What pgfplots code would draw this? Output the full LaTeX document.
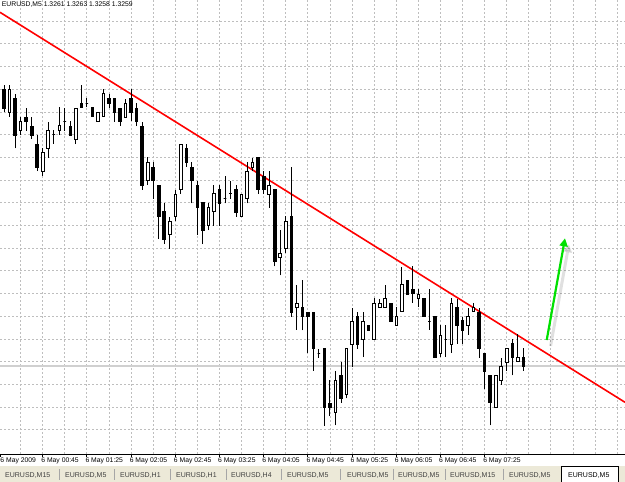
\documentclass[border=0pt]{standalone}
\usepackage{fontspec}
\setmainfont{Liberation Sans}
\usepackage{pgfplots}
\usepackage{pgfplotstable}
\pgfplotsset{compat=1.18}
\usetikzlibrary{arrows.meta}
\definecolor{gridc}{HTML}{BEBEBE}
\definecolor{tabbg}{HTML}{ECE9D8}
\definecolor{tabtxt}{HTML}{404040}
\definecolor{bidc}{HTML}{D0D0D0}
\definecolor{arrowg}{HTML}{00E000}

\pgfdeclareplotmark{cbody}{%
  \pgfpathrectangle{\pgfpoint{-1.3pt}{-0.5*\bh pt}}{\pgfpoint{2.6pt}{\bh pt}}%
  \pgfusepathqfillstroke}
\pgfdeclareplotmark{cwick}{%
  \pgfpathmoveto{\pgfpoint{0pt}{-0.5*\wh pt}}%
  \pgfpathlineto{\pgfpoint{0pt}{0.5*\wh pt}}%
  \pgfusepathqstroke}

\pgfplotsset{
  wick/.style={scatter, only marks, mark=cwick, mark options={line width=0.9pt},
    scatter/use mapped color={draw=black},
    visualization depends on={(\thisrow{h}-\thisrow{l})*45400 \as \wh}},
  body/.style={scatter, only marks, mark=cbody, mark options={line width=0.8pt},
    scatter/use mapped color={draw=black, fill=#1},
    visualization depends on={abs(\thisrow{c}-\thisrow{o})*45400 \as \bh}},
}

% EURUSD M5 candles, 6 May 2009: bar index j, open, high, low, close
\pgfplotstableread{
j o h l c
1 1.3315 1.3321 1.3314 1.3320
3 1.3311 1.3314 1.3310 1.3313
7 1.3302 1.3307 1.3301 1.3306
8 1.3307 1.3313 1.3305 1.3311
9 1.3310 1.3311 1.3308 1.3310
10 1.3311 1.3316 1.3310 1.3312
11 1.3313 1.3316 1.3311 1.3313
13 1.3309 1.3316 1.3308 1.3316
15 1.3317 1.3318 1.3316 1.3317
17 1.3313 1.3315 1.3313 1.3315
18 1.3314 1.3320 1.3314 1.3319
22 1.3314 1.3318 1.3314 1.3317
26 1.3300 1.3305 1.3299 1.3304
30 1.3288 1.3292 1.3285 1.3291
31 1.3292 1.3298 1.3291 1.3297
32 1.3298 1.3308 1.3297 1.3308
37 1.3290 1.3295 1.3289 1.3294
38 1.3293 1.3299 1.3290 1.3297
40 1.3296 1.3301 1.3295 1.3296
41 1.3297 1.3300 1.3296 1.3297
43 1.3292 1.3297 1.3292 1.3297
44 1.3296 1.3304 1.3295 1.3302
45 1.3303 1.3305 1.3302 1.3304
48 1.3297 1.3302 1.3294 1.3299
50 1.3283 1.3289 1.3279 1.3284
51 1.3285 1.3292 1.3284 1.3291
53 1.3272 1.3277 1.3267 1.3273
57 1.3262 1.3263 1.3261 1.3262
60 1.3249 1.3258 1.3246 1.3256
62 1.3253 1.3263 1.3252 1.3263
63 1.3264 1.3272 1.3259 1.3269
65 1.3265 1.3271 1.3261 1.3269
67 1.3265 1.3274 1.3265 1.3273
68 1.3272 1.3274 1.3272 1.3273
69 1.3272 1.3277 1.3272 1.3274
71 1.3268 1.3272 1.3268 1.3270
72 1.3271 1.3281 1.3271 1.3277
75 1.3274 1.3276 1.3272 1.3275
77 1.3269 1.3276 1.3267 1.3269
79 1.3262 1.3268 1.3261 1.3266
80 1.3265 1.3268 1.3261 1.3265
81 1.3264 1.3274 1.3262 1.3273
84 1.3268 1.3272 1.3266 1.3270
85 1.3271 1.3273 1.3271 1.3272
89 1.3250 1.3257 1.3250 1.3257
90 1.3256 1.3261 1.3255 1.3259
91 1.3260 1.3263 1.3258 1.3263
93 1.3260 1.3266 1.3260 1.3261
}\bulls
\pgfplotstableread{
j o h l c
-1 1.3325 1.3326 1.3317 1.3318
0 1.3320 1.3321 1.3315 1.3316
2 1.3318 1.3319 1.3307 1.3310
4 1.3314 1.3316 1.3311 1.3313
5 1.3312 1.3314 1.3309 1.3310
6 1.3308 1.3310 1.3302 1.3303
12 1.3312 1.3313 1.3310 1.3310
14 1.3317 1.3321 1.3316 1.3316
16 1.3316 1.3316 1.3314 1.3314
19 1.3318 1.3319 1.3316 1.3317
20 1.3318 1.3318 1.3313 1.3315
21 1.3316 1.3316 1.3312 1.3313
23 1.3318 1.3320 1.3313 1.3315
24 1.3316 1.3317 1.3312 1.3313
25 1.3312 1.3313 1.3298 1.3299
27 1.3303 1.3304 1.3296 1.3300
28 1.3299 1.3299 1.3287 1.3292
29 1.3293 1.3295 1.3286 1.3287
33 1.3307 1.3308 1.3303 1.3304
34 1.3303 1.3304 1.3295 1.3300
35 1.3299 1.3300 1.3288 1.3294
36 1.3295 1.3295 1.3286 1.3289
39 1.3298 1.3299 1.3290 1.3295
42 1.3298 1.3299 1.3292 1.3293
46 1.3305 1.3305 1.3297 1.3298
47 1.3301 1.3302 1.3297 1.3298
49 1.3298 1.3298 1.3281 1.3282
52 1.3292 1.3303 1.3270 1.3271
54 1.3272 1.3278 1.3267 1.3270
55 1.3271 1.3271 1.3262 1.3270
56 1.3271 1.3271 1.3258 1.3263
58 1.3263 1.3263 1.3246 1.3250
59 1.3251 1.3256 1.3248 1.3250
61 1.3257 1.3260 1.3251 1.3252
64 1.3270 1.3271 1.3263 1.3264
66 1.3268 1.3268 1.3267 1.3267
70 1.3273 1.3273 1.3269 1.3269
73 1.3278 1.3278 1.3275 1.3275
74 1.3276 1.3281 1.3273 1.3275
76 1.3274 1.3274 1.3270 1.3270
78 1.3270 1.3270 1.3261 1.3261
82 1.3272 1.3274 1.3264 1.3268
83 1.3269 1.3270 1.3264 1.3267
86 1.3271 1.3272 1.3261 1.3263
87 1.3262 1.3262 1.3254 1.3258
88 1.3257 1.3257 1.3246 1.3251
92 1.3264 1.3265 1.3257 1.3261
94 1.3261 1.3263 1.3258 1.3259
}\bears

\begin{document}
\begin{tikzpicture}
\begin{axis}[
  at={(0pt,0pt)}, anchor=south west,
  width=625pt, height=454pt, scale only axis,
  xmin=-0.724, xmax=112.42,
  ymin=1.323967, ymax=1.333967,
  axis x line*=bottom, axis y line*=left,
  x axis line style={-, black, line width=0.8pt},
  y axis line style={draw=none},
  xtick={7,15,23,31,39,47,55,63,71,79,87},
  xticklabels={6 May 00:45,6 May 01:25,6 May 02:05,6 May 02:45,6 May 03:25,6 May 04:05,6 May 04:45,6 May 05:25,6 May 06:05,6 May 06:45,6 May 07:25},
  minor xtick={3,11,19,27,35,43,51,59,67,75,83,91,95,99,103,107,111},
  ytick={1.3245,1.3250,1.3255,1.3260,1.3265,1.3270,1.3275,1.3280,1.3285,1.3290,1.3295,1.3300,1.3305,1.3310,1.3315,1.3320,1.3325,1.3330,1.3335},
  yticklabels={},
  ytick style={draw=none},
  xmajorgrids, xminorgrids, ymajorgrids,
  major grid style={gridc, line width=0.8pt, dash pattern=on 2pt off 2pt},
  minor grid style={gridc, line width=0.8pt, dash pattern=on 2pt off 2pt},
  tick align=outside, major tick length=3pt, minor tick length=0pt,
  xtick style={black, line width=0.8pt},
  xticklabel style={font=\fontsize{6.8}{8}\selectfont, anchor=north west, inner sep=0pt, xshift=-1.5pt, yshift=-0.5pt},
]
% bid line
\addplot[bidc, line width=1.6pt] coordinates {(-2,1.3259) (114,1.3259)};
% wicks
\addplot[wick] table[x=j, y expr={(\thisrow{h}+\thisrow{l})/2}] {\bulls};
\addplot[wick] table[x=j, y expr={(\thisrow{h}+\thisrow{l})/2}] {\bears};
% bodies
\addplot[body=white] table[x=j, y expr={(\thisrow{o}+\thisrow{c})/2}] {\bulls};
\addplot[body=black] table[x=j, y expr={(\thisrow{o}+\thisrow{c})/2}] {\bears};
% trend line
\addplot[red, line width=1.6pt] coordinates {(-0.724,1.333696) (112.42,1.325106)};
% arrow shadow and arrow
\addplot[black, opacity=0.12, line width=3pt, -{Triangle[length=8pt,width=9pt]}] coordinates {(98.95,1.326346) (102.26,1.328586)};
\addplot[arrowg, line width=2.2pt, -{Triangle[length=8pt,width=8pt]}] coordinates {(98.25,1.326478) (101.56,1.328718)};
\end{axis}
% first time label (its tick lies at the left edge)
\draw[black, line width=0.8pt] (0.4pt,0pt) -- (0.4pt,-3pt);
\node[anchor=north west, inner sep=0pt, font=\fontsize{6.8}{8}\selectfont] at (0.3pt,-3.5pt) {6 May 2009};
% title
\node[anchor=north west, inner sep=0pt, font=\fontsize{6.8}{8}\selectfont] at (1.7pt,452pt) {EURUSD,M5 1.3261 1.3263 1.3258 1.3259};
% tab bar
\fill[tabbg] (0pt,-28pt) rectangle (625pt,-12.5pt);
\foreach \sx in {59,114,170,226,281,340,393,445,503}
  \draw[gray!70, line width=0.8pt] (\sx pt,-15.5pt) -- (\sx pt,-26pt);
\filldraw[fill=white, draw=black, line width=0.8pt] (561.5pt,-29pt) -- (561.5pt,-12pt) -- (618.5pt,-12pt) -- (618.5pt,-29pt);
\foreach \tx/\tl in {5/M15,65/M5,120/H1,176/H1,231/H4,287/M5,347/M5,398/M5,450/M15,509/M5}
  \node[anchor=base west, inner sep=0pt, text=tabtxt, font=\fontsize{7}{8}\selectfont] at (\tx pt,-23.5pt) {EURUSD,\tl};
\node[anchor=base west, inner sep=0pt, font=\fontsize{7}{8}\selectfont] at (568pt,-23.5pt) {EURUSD,M5};
\pgfresetboundingbox
\path[use as bounding box] (0pt,-28pt) rectangle (625pt,454pt);
\end{tikzpicture}
\end{document}
